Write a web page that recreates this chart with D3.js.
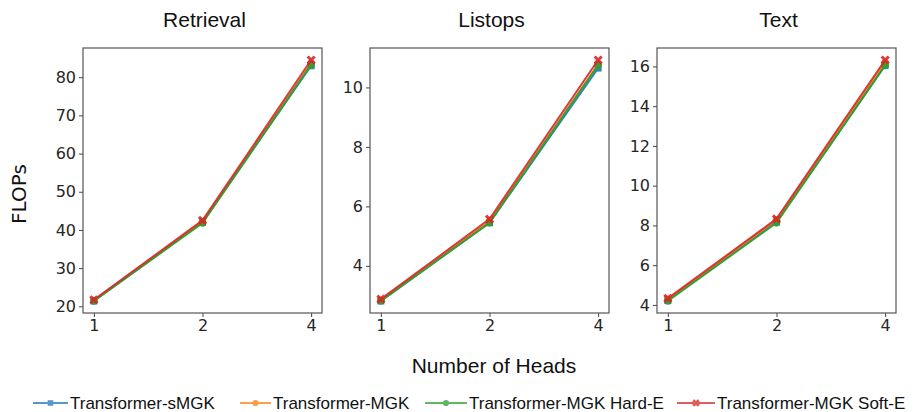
<!DOCTYPE html>
<html>
<head>
<meta charset="UTF-8">
<title>FLOPs vs heads</title>
<script src="https://cdn.jsdelivr.net/npm/d3@7/dist/d3.min.js"></script>
<style>
html, body { margin: 0; padding: 0; background: #fff; }
svg { display: block; }
.tick text { font-family: "DejaVu Sans", sans-serif; font-size: 16px; fill: #262626; }
.title, .xlab, .legend text { font-family: "Liberation Sans", Arial, sans-serif; fill: #111; }
</style>
</head>
<body>
<script>
// data
var tasks = ["Retrieval", "Listops", "Text"];
var heads = [1, 2, 4];
var seriesNames = ["Transformer-sMGK", "Transformer-MGK", "Transformer-MGK Hard-E", "Transformer-MGK Soft-E"];

// values per task, one row per series (same order as seriesNames)
var retrievalVals = [
  [21.4, 42.0, 83.0],
  [21.5, 42.2, 83.6],
  [21.4, 41.8, 83.3],
  [21.7, 42.5, 84.5]
];
var listopsVals = [
  [2.82, 5.45, 10.65],
  [2.85, 5.50, 10.78],
  [2.82, 5.45, 10.75],
  [2.88, 5.57, 10.92]
];
var textVals = [
  [4.22, 8.18, 16.05],
  [4.28, 8.28, 16.20],
  [4.20, 8.13, 16.05],
  [4.33, 8.33, 16.32]
];
var yTicksRetrieval = [20, 30, 40, 50, 60, 70, 80];
var yTicksListops = [4, 6, 8, 10];
var yTicksText = [4, 6, 8, 10, 12, 14, 16];

var taskValues = [retrievalVals, listopsVals, textVals];
var taskTicks = [yTicksRetrieval, yTicksListops, yTicksText];

var colors = ["#1f77b4", "#ff7f0e", "#2ca02c", "#d62728"];
var markers = ["square", "circle", "circle", "x"];

var width = 913, height = 412;
var panelLeft = [83, 370, 657], panelW = 239, plotTop = 48, plotBottom = 313;

var svg = d3.select("body").append("svg")
    .attr("width", width)
    .attr("height", height);

function drawMarker(g, type, x, y, color, sz) {
  var h = sz || 3.5;
  if (type == "square") {
    g.append("rect").attr("x", x - h).attr("y", y - h)
      .attr("width", 2 * h).attr("height", 2 * h).attr("fill", color);
  } else if (type == "circle") {
    g.append("circle").attr("cx", x).attr("cy", y).attr("r", h + 0.3).attr("fill", color);
  } else {
    g.append("path")
      .attr("d", "M" + (x - h) + "," + (y - h) + "L" + (x + h) + "," + (y + h) +
                 "M" + (x + h) + "," + (y - h) + "L" + (x - h) + "," + (y + h))
      .attr("stroke", color).attr("stroke-width", 3).attr("fill", "none");
  }
}

tasks.forEach(function (task, t) {
  var vals = taskValues[t];
  var left = panelLeft[t];
  var all = d3.merge(vals);
  var lo = d3.min(all), hi = d3.max(all), pad = (hi - lo) * 0.05;

  var x = d3.scalePoint().domain(heads).range([left, left + panelW]).padding(0.1);
  var y = d3.scaleLinear().domain([lo - pad, hi + pad]).range([plotBottom, plotTop]);

  var g = svg.append("g");

  g.append("text").attr("class", "title")
    .attr("x", left + panelW / 2 + 2).attr("y", 27)
    .attr("text-anchor", "middle").attr("font-size", 21)
    .text(task);

  var yAxis = g.append("g").attr("transform", "translate(" + left + ",0)")
    .call(d3.axisLeft(y).tickValues(taskTicks[t]).tickSize(4).tickPadding(3));
  var xAxis = g.append("g").attr("transform", "translate(0," + plotBottom + ")")
    .call(d3.axisBottom(x).tickSize(4).tickPadding(3));
  [yAxis, xAxis].forEach(function (a) {
    a.select(".domain").remove();
    a.selectAll(".tick line").attr("stroke", "#444");
    a.selectAll(".tick text").attr("font-size", null);
  });

  g.append("rect")
    .attr("x", left).attr("y", plotTop)
    .attr("width", panelW).attr("height", plotBottom - plotTop)
    .attr("fill", "none").attr("stroke", "#555").attr("stroke-width", 1.2);

  var line = d3.line()
    .x(function (d, i) { return x(heads[i]); })
    .y(function (d) { return y(d); });

  vals.forEach(function (row, s) {
    var sg = g.append("g").attr("opacity", 0.9);
    sg.append("path").datum(row)
      .attr("d", line)
      .attr("fill", "none")
      .attr("stroke", colors[s])
      .attr("stroke-width", 2);
    row.forEach(function (v, i) {
      drawMarker(sg, markers[s], x(heads[i]), y(v), colors[s]);
    });
  });
});

svg.append("text")
  .attr("transform", "translate(26,194) rotate(-90)")
  .attr("text-anchor", "middle")
  .attr("font-family", "DejaVu Sans, sans-serif")
  .attr("font-size", 20).attr("fill", "#111")
  .text("FLOPs");

svg.append("text").attr("class", "xlab")
  .attr("x", 494).attr("y", 373)
  .attr("text-anchor", "middle").attr("font-size", 21)
  .text("Number of Heads");

// legend
var legX = [33, 240, 425, 677];
var legLen = [35, 31, 42, 38];
var legend = svg.append("g").attr("class", "legend");
seriesNames.forEach(function (name, s) {
  var lg = legend.append("g").attr("opacity", 0.75);
  var x0 = legX[s], yy = 403;
  lg.append("line")
    .attr("x1", x0).attr("x2", x0 + legLen[s])
    .attr("y1", yy).attr("y2", yy)
    .attr("stroke", colors[s]).attr("stroke-width", 2);
  drawMarker(lg, markers[s], x0 + legLen[s] / 2, yy, colors[s], 2.8);
  legend.append("text")
    .attr("x", x0 + legLen[s] + 2).attr("y", yy + 6)
    .attr("font-size", 17)
    .text(name);
});
</script>
</body>
</html>
